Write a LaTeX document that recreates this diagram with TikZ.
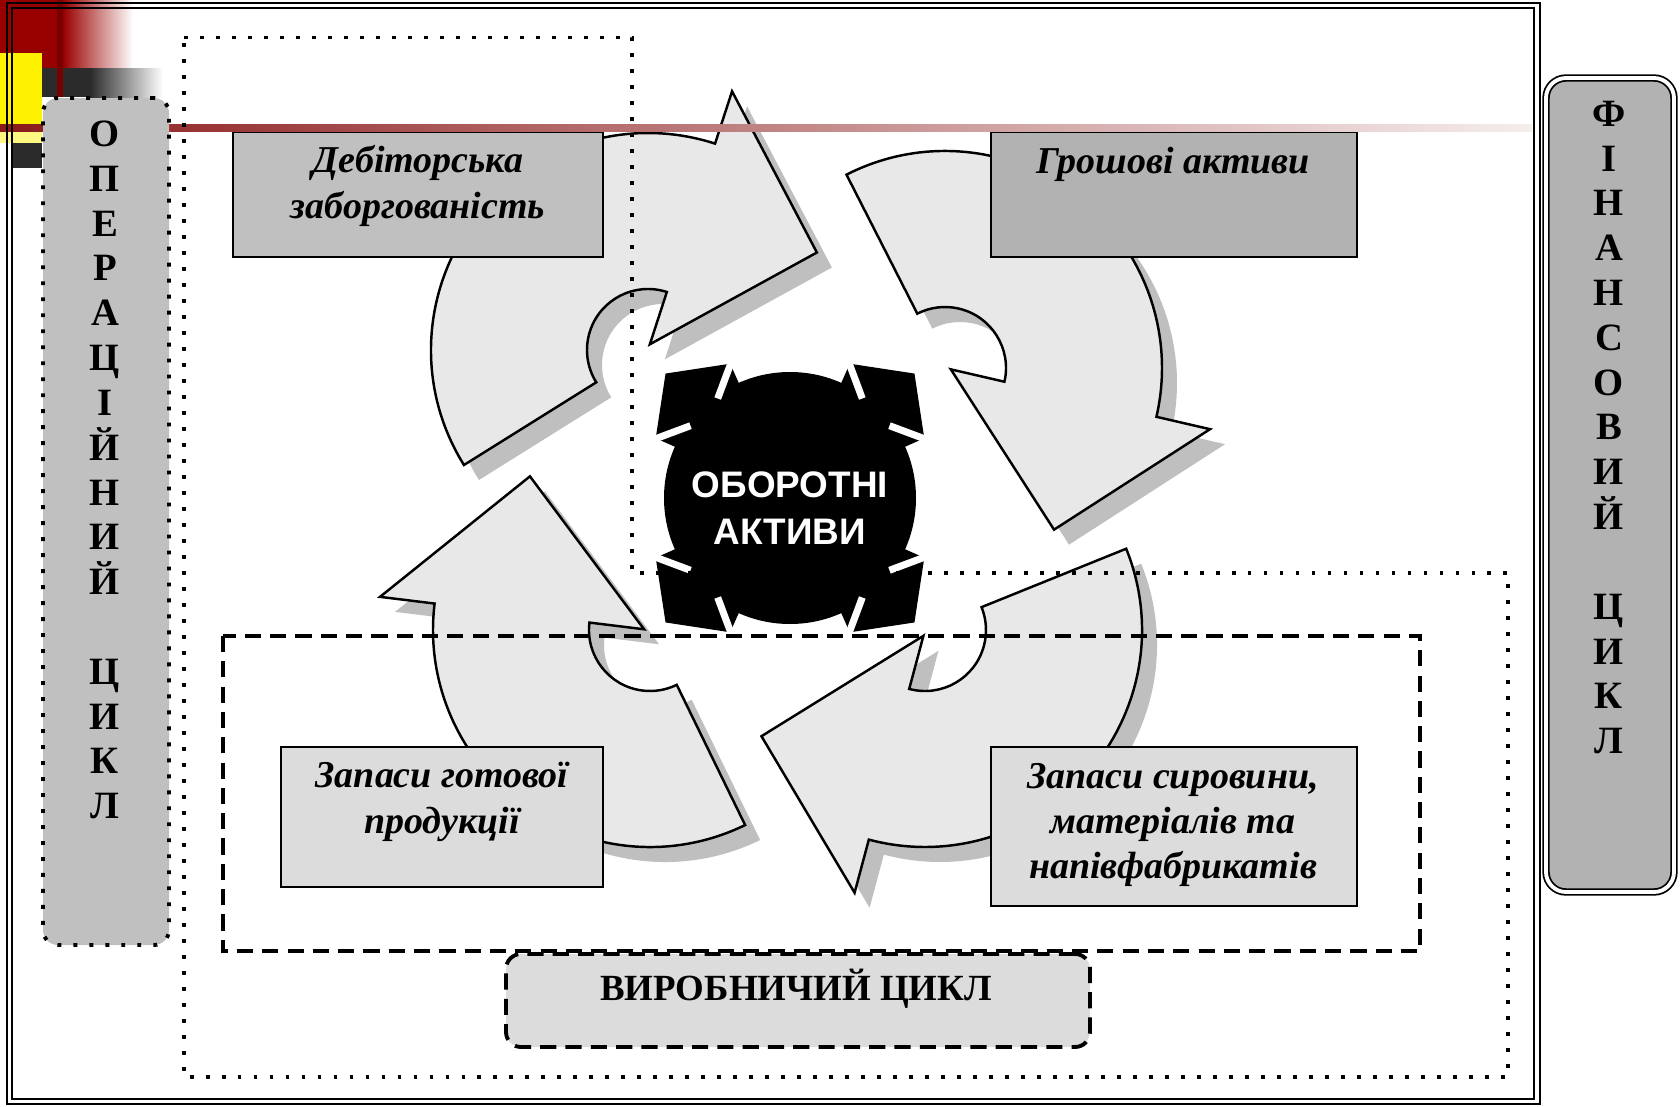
\documentclass[tikz,border=0pt]{standalone}
\usepackage{fontspec}
\setmainfont{Liberation Serif}
\newfontfamily\arialbold{Liberation Sans}[BoldFont={Liberation Sans Bold}]
\usepackage{tikz}
\usetikzlibrary{calc,positioning}
\definecolor{slidered}{HTML}{990000}
\definecolor{slidegrey}{HTML}{2B2B2B}
\definecolor{linered}{HTML}{8B1A1A}
\definecolor{arrowfill}{HTML}{E8E8E8}
\definecolor{shadowgrey}{HTML}{BFBFBF}
\definecolor{boxgreyA}{HTML}{C0C0C0}
\definecolor{boxgreyB}{HTML}{B2B2B2}
\definecolor{boxgreyC}{HTML}{DCDCDC}
\newlength{\pxl}\setlength{\pxl}{0.1mm}
% circular arrow: centre, tail angle, head angle, tip angle, style
\newcommand{\cyclearrow}[5]{%
  \begin{scope}[shift={(#1)}]
  \path[#5] (#2:217) arc[start angle=#2, end angle=#3, radius=217]
    -- (#3:272) -- (#4:195) -- (#3:6) -- (#3:61)
    arc[start angle=#3, end angle=#2, radius=61] -- cycle;
  \end{scope}}

\begin{document}
\begin{tikzpicture}[x=0.1mm,y=-0.1mm,semithick]
  \tikzstyle{box}=[rectangle,draw=black,line width=0.7pt,inner sep=0pt]
  \tikzstyle{boxtext}=[align=center,font=\fontsize{10.8}{12.9}\selectfont\bfseries\itshape]
  \tikzstyle{letters}=[align=center,font=\fontsize{11}{12.75}\selectfont\bfseries]
  \tikzstyle{dotline}=[line width=1.1pt,dash pattern=on 1.1pt off 3.45pt]
  \tikzstyle{dashline}=[line width=1.1pt,dash pattern=on 4.6pt off 2.6pt]
  \tikzstyle{arrowbody}=[fill=arrowfill,draw=black,line width=0.7pt]
  \tikzstyle{arrowshade}=[fill=shadowgrey,shift={(15,15)}]

  \useasboundingbox (0,0) rectangle (1680,1107);
  \fill[white] (0,0) rectangle (1680,1107);

  % slide corner
  \fill[slidered] (0,0) rectangle (63,68);
  \shade[left color=slidered,right color=white] (63,0) rectangle (133,68);
  \fill[yellow] (0,53) rectangle (42,130);
  \fill[yellow!50] (0,130) rectangle (42,143);
  \fill[slidegrey] (42,68) rectangle (90,97);
  \shade[left color=slidegrey,right color=white] (90,68) rectangle (163,97);
  \fill[slidered!80!black] (57,0) rectangle (63,97);
  \fill[slidegrey] (12,143) rectangle (42,168);

  % arrows
  \cyclearrow{648,350}{148}{288}{330}{arrowshade}
  \cyclearrow{945,368}{243}{373}{416}{arrowshade}
  \cyclearrow{925,630}{-22}{105}{147}{arrowshade}
  \cyclearrow{650,630}{64}{187}{232}{arrowshade}
  \cyclearrow{648,350}{148}{288}{330}{arrowbody}
  \cyclearrow{945,368}{243}{373}{416}{arrowbody}
  \cyclearrow{925,630}{-22}{105}{147}{arrowbody}
  \cyclearrow{650,630}{64}{187}{232}{arrowbody}

  % centre
  \begin{scope}[shift={(790,498)}]
    \fill[black] (0,0) circle[radius=126];
    \foreach \d in {45,135,225,315}{
      \fill[black] (\d:176) -- (\d+21:147) -- (\d+21:110) -- (\d-21:110) -- (\d-21:147) -- cycle;
      \draw[white,line width=2pt] (\d+22:149) -- (\d+9:123) (\d-22:149) -- (\d-9:123);
    }
  \end{scope}
  \node[align=center,text=white,font=\fontsize{10.5}{13.4}\selectfont\arialbold\bfseries] (core) at (790,508) {ОБОРОТНІ\\АКТИВИ};

  % boxes
  \node[box,fill=boxgreyA,minimum width=370.5\pxl,minimum height=125\pxl] (deb) at (418,194.5) {};
  \node[box,fill=boxgreyB,minimum width=365.5\pxl,minimum height=125\pxl] (grosh) at (1174,194.5) {};
  \node[box,fill=boxgreyC,minimum width=322\pxl,minimum height=140\pxl] (gotov) at (442,817) {};
  \node[box,fill=boxgreyC,minimum width=365.5\pxl,minimum height=159\pxl] (syrov) at (1174,826.5) {};
  \node[boxtext] (debtext) at (418,186) {Дебіторська\\заборгованість};
  \node[boxtext] (groshtext) at (1173,164) {Грошові активи};
  \node[boxtext] (gotovtext) at (442,802) {Запаси готової\\продукції};
  \node[boxtext] (syrovtext) at (1173,825) {Запаси сировини,\\матеріалів та\\напівфабрикатів};

  % template line
  \shade[left color=linered,right color=linered!8] (0,124) rectangle (1532,131);

  % cycles
  \draw[dotline] (184,37.5) -- (632,37.5) -- (632,573) -- (1508,573) -- (1508,1077) -- (184,1077) -- cycle;
  \draw[dashline] (223,636) rectangle (1420,951);
  \node[rectangle,rounded corners=1.5mm,fill=boxgreyC,draw=black,dashline,minimum width=584\pxl,minimum height=93\pxl] (prod) at (798,1000.5) {};
  \node[font=\fontsize{10.5}{13}\selectfont\bfseries] (prodtext) at (796,989) {ВИРОБНИЧИЙ ЦИКЛ};

  \node[rectangle,rounded corners=1.5mm,fill=boxgreyA,draw=black,dotline,minimum width=126\pxl,minimum height=847\pxl] (oper) at (106,521.5) {};
  \node[letters] (opertext) at (105,470) {О\\П\\Е\\Р\\А\\Ц\\І\\Й\\Н\\И\\Й\\[12.75pt]Ц\\И\\К\\Л};

  \node[rectangle,rounded corners=2mm,fill=boxgreyB,draw=black,line width=0.5pt,double=white,double distance=1.1pt,minimum width=128\pxl,minimum height=814\pxl] (fin) at (1610,485) {};
  \node[letters] (fintext) at (1609,427.5) {Ф\\І\\Н\\А\\Н\\С\\О\\В\\И\\Й\\[12.75pt]Ц\\И\\К\\Л};

  % frame
  \draw[line width=0.6pt] (7,3) rectangle (1540,1104);
  \draw[line width=0.6pt] (12,8) rectangle (1534,1099);
\end{tikzpicture}
\end{document}
